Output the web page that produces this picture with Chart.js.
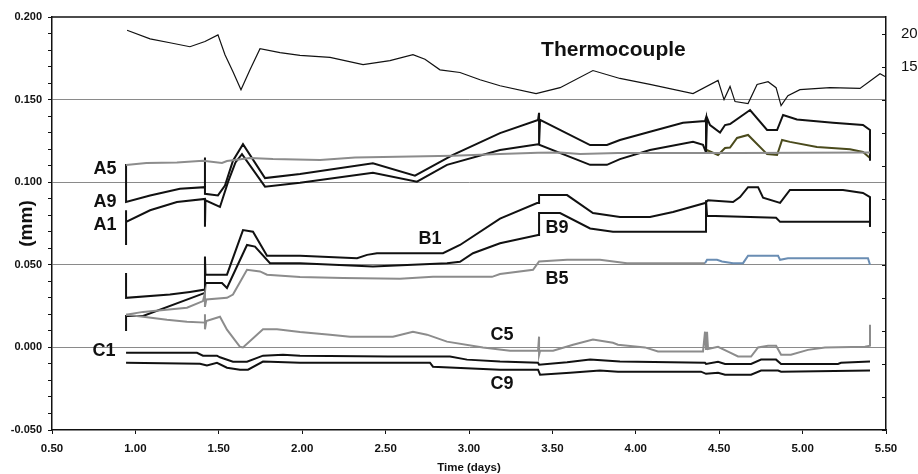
<!DOCTYPE html>
<html>
<head>
<meta charset="utf-8">
<script src="https://cdn.jsdelivr.net/npm/chart.js@4.4.1/dist/chart.umd.min.js"></script>
<style>
  html, body { margin: 0; padding: 0; background: #fff; }
  #wrap { width: 918px; height: 474px; position: relative; }
</style>
</head>
<body>
<div id="wrap"><canvas id="c" width="918" height="474"></canvas></div>
<script>
// ---------- DATA (time in days, displacement in mm, temperature in °C) ----------
const thermoT = [0.950,1.088,1.207,1.327,1.417,1.495,1.537,1.585,1.633,1.687,1.747,1.867,1.987,2.167,2.365,2.526,2.664,2.736,2.826,2.946,3.066,3.186,3.402,3.546,3.743,3.905,4.085,4.343,4.493,4.529,4.565,4.595,4.673,4.727,4.793,4.841,4.871,4.912,4.984,5.164,5.344,5.464,5.494];
const thermoV = [20.5,19.2,18.6,18.0,18.8,19.8,16.8,14.2,11.5,14.5,17.7,17.1,16.7,16.4,15.3,15.9,16.8,16.1,14.5,14.1,13.0,12.1,10.9,11.8,14.4,13.2,12.3,10.9,12.9,10.0,12.0,9.7,9.4,12.3,12.7,11.8,9.1,10.6,11.5,11.8,11.7,13.9,13.5];

const a9T = [0.944,0.944,1.088,1.267,1.417,1.417,1.417,1.495,1.537,1.585,1.645,1.777,1.987,2.424,2.676,2.904,3.186,3.414,3.420,3.420,3.426,3.726,3.827,3.905,4.085,4.283,4.415,4.421,4.421,4.427,4.445,4.505,4.535,4.565,4.685,4.787,4.847,4.883,4.966,5.182,5.362,5.404,5.404];
const a9V = [0.111,0.088,0.092,0.096,0.097,0.115,0.093,0.092,0.098,0.113,0.123,0.1025,0.105,0.1115,0.104,0.1165,0.1297,0.1377,0.142,0.123,0.1377,0.1225,0.1225,0.1255,0.1305,0.136,0.137,0.139,0.118,0.139,0.1346,0.130,0.1346,0.1352,0.1437,0.1316,0.1316,0.1407,0.138,0.136,0.1346,0.1316,0.113];

const a1T = [0.944,0.944,0.944,1.088,1.249,1.417,1.417,1.420,1.507,1.555,1.600,1.639,1.777,1.987,2.424,2.688,2.868,3.186,3.414,3.726,3.827,3.905,4.085,4.343,4.403,4.421,4.427,4.493,4.535,4.565,4.607,4.673,4.787,4.847,4.877,4.924,5.086,5.284,5.362,5.404];
const a1V = [0.083,0.062,0.076,0.083,0.088,0.0899,0.073,0.089,0.085,0.100,0.112,0.117,0.0973,0.0997,0.1057,0.1003,0.1105,0.1195,0.123,0.1105,0.1105,0.114,0.1195,0.1244,0.1226,0.118,0.1195,0.1165,0.1207,0.121,0.1268,0.1286,0.117,0.1165,0.1256,0.1244,0.1213,0.120,0.1183,0.1147];

const a5T = [0.944,1.066,1.249,1.405,1.519,1.549,1.687,1.825,2.107,2.317,2.904,3.186,3.414,3.546,3.666,3.893,4.385,4.583,4.613,5.404];
const a5V = [0.1104,0.1116,0.112,0.113,0.1116,0.1128,0.1147,0.114,0.1135,0.115,0.116,0.117,0.1178,0.118,0.117,0.1177,0.1177,0.1177,0.1177,0.118];

const b1T = [0.944,0.944,1.207,1.327,1.417,1.417,1.420,1.549,1.645,1.705,1.789,1.987,2.329,2.389,2.448,2.844,2.946,3.186,3.408,3.420,3.420,3.588,3.743,3.905,4.085,4.223,4.415,4.433,4.583,4.625,4.673,4.733,4.763,4.865,4.924,5.242,5.362,5.404,5.404];
const b1V = [0.045,0.030,0.032,0.0336,0.035,0.055,0.044,0.044,0.071,0.070,0.0555,0.0555,0.054,0.056,0.057,0.057,0.062,0.078,0.0874,0.0874,0.0922,0.0922,0.0813,0.079,0.079,0.082,0.0874,0.089,0.088,0.091,0.097,0.097,0.0906,0.0875,0.0953,0.0953,0.0935,0.091,0.073];

const b9T = [0.944,0.944,1.046,1.417,1.420,1.519,1.549,1.669,1.717,1.807,1.987,2.424,2.868,2.946,3.024,3.186,3.414,3.420,3.420,3.546,3.726,3.863,4.403,4.421,4.421,4.427,4.841,4.865,5.404,5.404];
const b9V = [0.010,0.019,0.019,0.033,0.039,0.039,0.036,0.062,0.061,0.051,0.051,0.049,0.051,0.0518,0.057,0.063,0.068,0.068,0.0813,0.0813,0.072,0.070,0.070,0.070,0.089,0.0797,0.0785,0.076,0.076,0.073];

const b5T = [0.944,1.046,1.309,1.405,1.417,1.417,1.425,1.549,1.585,1.669,1.747,1.789,1.987,2.245,2.586,2.784,3.138,3.186,3.384,3.420,3.588,3.785,3.947,4.415,4.427,4.487,4.517,4.583,4.643,4.673,4.853,4.865,4.912,5.392,5.404];
const b5V = [0.0197,0.0215,0.024,0.028,0.033,0.0245,0.029,0.030,0.032,0.047,0.046,0.044,0.0426,0.042,0.0415,0.0427,0.0427,0.0444,0.047,0.052,0.053,0.053,0.051,0.051,0.053,0.053,0.052,0.051,0.051,0.0555,0.0555,0.053,0.054,0.054,0.050];

const c5T = [0.944,1.046,1.189,1.309,1.417,1.417,1.417,1.425,1.507,1.549,1.627,1.645,1.765,1.849,1.987,2.167,2.287,2.544,2.664,2.748,2.868,3.084,3.246,3.414,3.420,3.420,3.426,3.504,3.624,3.743,3.863,3.893,4.055,4.133,4.403,4.415,4.421,4.427,4.433,4.493,4.553,4.613,4.691,4.733,4.793,4.841,4.871,4.930,5.032,5.134,5.374,5.404,5.404];
const c5V = [0.0197,0.0186,0.0168,0.0156,0.015,0.020,0.011,0.016,0.0186,0.0107,0.0004,0.000,0.011,0.011,0.0093,0.0077,0.0065,0.0065,0.0095,0.0077,0.0035,0.000,-0.002,-0.002,0.0065,-0.0045,-0.002,-0.002,0.0016,0.0047,0.0028,0.0016,0.000,-0.0025,-0.0025,0.0095,-0.0015,0.0095,-0.001,0.0004,-0.0025,-0.0055,-0.0055,0.000,0.001,0.001,-0.0045,-0.0045,-0.0015,0.000,0.0004,0.001,0.0137];

const c1T = [0.944,1.369,1.405,1.489,1.507,1.585,1.669,1.765,1.885,1.987,2.514,2.886,2.988,3.186,3.414,3.420,3.588,3.726,3.905,4.415,4.421,4.493,4.535,4.691,4.751,4.841,4.871,5.212,5.230,5.404];
const c1V = [-0.0033,-0.0033,-0.005,-0.005,-0.006,-0.0087,-0.0087,-0.005,-0.0045,-0.005,-0.0055,-0.0055,-0.0074,-0.0086,-0.0093,-0.0105,-0.009,-0.0074,-0.0086,-0.0093,-0.010,-0.0087,-0.010,-0.010,-0.0074,-0.0074,-0.010,-0.010,-0.0093,-0.0086];

const c9T = [0.944,1.387,1.429,1.489,1.549,1.627,1.675,1.765,1.987,2.766,2.784,3.186,3.414,3.426,3.606,3.785,3.893,4.391,4.421,4.493,4.535,4.691,4.751,4.853,4.871,5.404];
const c9V = [-0.0093,-0.0099,-0.011,-0.0093,-0.0123,-0.0135,-0.0135,-0.0086,-0.0093,-0.0093,-0.0117,-0.0135,-0.0135,-0.0165,-0.0153,-0.014,-0.0147,-0.0147,-0.016,-0.0153,-0.0165,-0.0165,-0.014,-0.014,-0.0147,-0.014];

// Times after which some gauges switch colour
const colourSwitchT = 4.421;

// Series labels (placed in data coordinates)
const labelTexts = ['A5','A9','A1','B1','B9','B5','C5','C1','C9'];
const labelT = [0.818,0.818,0.818,2.766,3.528,3.528,3.198,0.812,3.198];
const labelV = [0.108,0.0881,0.0742,0.0657,0.0724,0.0415,0.0077,-0.002,-0.022];
const thermoLabel = 'Thermocouple';
const thermoLabelT = 3.432;
const thermoLabelV = 0.180;

// Axis ticks
const xTickStep = 0.5;
const yMinorStep = 0.01;
const yMajorStep = 0.05;
const tempTickStep = 5;
const tempTicksShown = [20, 15];

// ---------- CHART ----------
const BLACK = '#111111';
const GRAY = '#8c8c8c';
const OLIVE = '#4a4a1c';
const BLUE = '#6a8db3';
const FONT = '"Liberation Sans", Arial, Helvetica, sans-serif';
Chart.defaults.font.family = FONT;

const pts = (ts, vs) => ts.map((t, i) => ({ x: t, y: vs[i] }));

const base = { pointRadius: 0, pointHoverRadius: 0, borderWidth: 2, tension: 0, fill: false, borderJoinStyle: 'miter' };

const datasets = [
  Object.assign({}, base, { label: 'A5', data: pts(a5T, a5V), borderColor: GRAY }),
  Object.assign({}, base, { label: 'B5', data: pts(b5T, b5V), borderColor: GRAY,
    segment: { borderColor: c => c.p0.parsed.x >= colourSwitchT - 0.01 ? BLUE : GRAY } }),
  Object.assign({}, base, { label: 'C5', data: pts(c5T, c5V), borderColor: GRAY }),
  Object.assign({}, base, { label: 'A9', data: pts(a9T, a9V), borderColor: BLACK }),
  Object.assign({}, base, { label: 'A1', data: pts(a1T, a1V), borderColor: BLACK,
    segment: { borderColor: c => c.p0.parsed.x >= colourSwitchT ? OLIVE : BLACK } }),
  Object.assign({}, base, { label: 'B1', data: pts(b1T, b1V), borderColor: BLACK }),
  Object.assign({}, base, { label: 'B9', data: pts(b9T, b9V), borderColor: BLACK }),
  Object.assign({}, base, { label: 'C1', data: pts(c1T, c1V), borderColor: BLACK }),
  Object.assign({}, base, { label: 'C9', data: pts(c9T, c9V), borderColor: BLACK }),
  Object.assign({}, base, { label: 'Thermocouple', data: pts(thermoT, thermoV), borderColor: BLACK, borderWidth: 1.2, yAxisID: 'y2' })
];

const isMajor = v => Math.abs(Math.round(v * 1000) % Math.round(yMajorStep * 1000)) === 0;

const decorPlugin = {
  id: 'decor',
  beforeDraw(chart) {
    const { ctx } = chart;
    ctx.save();
    ctx.fillStyle = '#ffffff';
    ctx.fillRect(0, 0, chart.width, chart.height);
    ctx.restore();
  },
  afterDraw(chart) {
    const { ctx, chartArea: a, scales } = chart;
    ctx.save();
    // frame (top)
    ctx.strokeStyle = BLACK;
    ctx.lineWidth = 1.5;
    ctx.beginPath();
    ctx.moveTo(a.left, a.top);
    ctx.lineTo(a.right, a.top);
    ctx.stroke();
    // inward tick marks on right axis
    ctx.lineWidth = 1;
    scales.y2.ticks.forEach(t => {
      const y = Math.round(scales.y2.getPixelForValue(t.value)) + 0.5;
      ctx.beginPath();
      ctx.moveTo(a.right - 4, y);
      ctx.lineTo(a.right, y);
      ctx.stroke();
    });
    // series labels
    ctx.fillStyle = BLACK;
    ctx.textBaseline = 'middle';
    ctx.textAlign = 'center';
    ctx.font = 'bold 18px ' + FONT;
    labelTexts.forEach((txt, i) => {
      ctx.fillText(txt, scales.x.getPixelForValue(labelT[i]), scales.y.getPixelForValue(labelV[i]));
    });
    ctx.textAlign = 'left';
    ctx.font = 'bold 21px ' + FONT;
    ctx.fillText(thermoLabel, scales.x.getPixelForValue(thermoLabelT), scales.y.getPixelForValue(thermoLabelV));
    ctx.restore();
  }
};

new Chart(document.getElementById('c'), {
  type: 'line',
  data: { datasets },
  options: {
    responsive: false,
    animation: false,
    events: [],
    layout: { padding: { top: 17, left: 0, right: 0, bottom: 0 } },
    plugins: { legend: { display: false }, tooltip: { enabled: false } },
    scales: {
      x: {
        type: 'linear', min: 0.5, max: 5.5,
        afterFit: s => { s.height = 44; s.paddingLeft = 0; s.paddingRight = 0; },
        ticks: { stepSize: xTickStep, autoSkip: false, maxRotation: 0, padding: 8, color: BLACK,
          font: { size: 11.5, weight: 'bold' }, callback: v => Number(v).toFixed(2) },
        grid: { drawOnChartArea: false, drawTicks: true, tickLength: 4, tickColor: BLACK, color: BLACK },
        border: { display: true, color: BLACK, width: 1.5 },
        title: { display: true, text: 'Time (days)', color: BLACK, padding: 0,
          font: { size: 11.5, weight: 'bold', lineHeight: 1 } }
      },
      y: {
        type: 'linear', position: 'left', min: -0.05, max: 0.2,
        afterFit: s => { s.width = 52; s.paddingTop = 0; s.paddingBottom = 0; },
        ticks: { stepSize: yMinorStep, autoSkip: false, padding: 6, color: BLACK,
          font: { size: 11, weight: 'bold' },
          callback: v => isMajor(v) ? Number(v).toFixed(3) : '' },
        grid: { drawTicks: true, tickLength: 4, tickColor: BLACK, lineWidth: 1,
          color: c => (c.tick && isMajor(c.tick.value) && c.tick.value > -0.049 && c.tick.value < 0.199) ? '#8a8a8a' : 'rgba(0,0,0,0)' },
        border: { display: true, color: BLACK, width: 1.5 },
        title: { display: true, text: '(mm)', color: BLACK, padding: { top: 15, bottom: 0 },
          font: { size: 19, weight: 'bold' } }
      },
      y2: {
        type: 'linear', position: 'right', min: -40, max: 22.5,
        afterFit: s => { s.width = 32; s.paddingTop = 0; s.paddingBottom = 0; },
        ticks: { stepSize: tempTickStep, includeBounds: false, autoSkip: false, padding: 15, color: BLACK,
          font: { size: 15 }, callback: v => tempTicksShown.includes(v) ? String(v) : '' },
        grid: { display: false, drawOnChartArea: false, drawTicks: false },
        border: { display: true, color: BLACK, width: 1.5 }
      }
    }
  },
  plugins: [decorPlugin]
});
</script>
</body>
</html>
